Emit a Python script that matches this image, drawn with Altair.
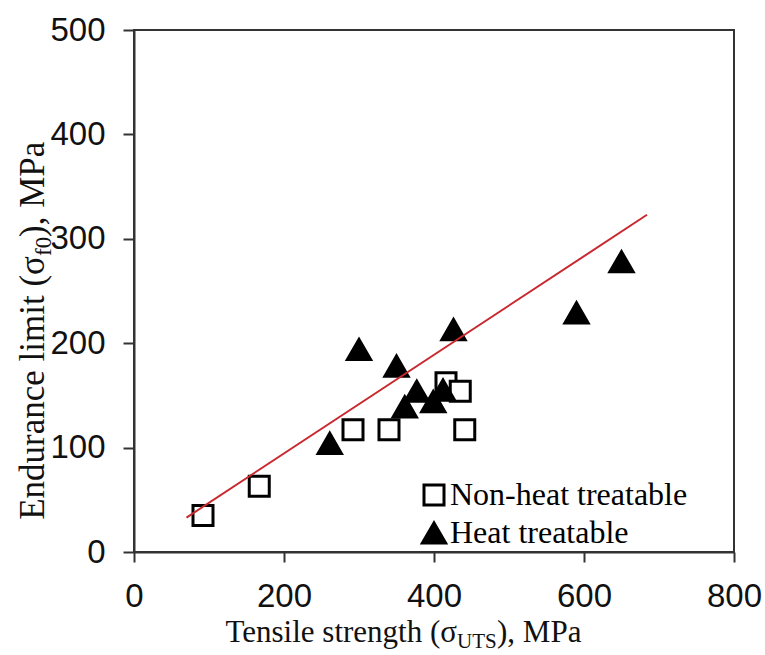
import altair as alt
import pandas as pd

# ---- data ----
groups = ["Non-heat treatable", "Heat treatable"]
non_x = [92, 167, 292, 340, 441, 416, 435]
non_y = [35, 63, 117, 117, 117, 162, 154]
heat_x = [261, 300, 350, 426, 377, 361, 399, 412, 590, 650]
heat_y = [104, 194, 178, 213, 154, 139, 144, 155, 229, 278]
fit_x = [70, 684]
fit_y = [33, 323]
x_ticks = [0, 200, 400, 600, 800]
y_ticks = [0, 100, 200, 300, 400, 500]

rows = [{"Tensile": x, "Endurance": y, "Group": groups[0]} for x, y in zip(non_x, non_y)]
rows += [{"Tensile": x, "Endurance": y, "Group": groups[1]} for x, y in zip(heat_x, heat_y)]
df = pd.DataFrame(rows)
fit_df = pd.DataFrame({"Tensile": fit_x, "Endurance": fit_y})

W, H = 600, 522
x_scale = alt.Scale(domain=[0, 800], nice=False)
y_scale = alt.Scale(domain=[0, 500], nice=False)

axis_common = dict(
    title=None, grid=False, labelFont="Liberation Sans", labelFontSize=33,
    labelColor="#111", tickWidth=2, tickColor="#333", domainColor="#333",
    domainWidth=2, labelFlush=False, labelOverlap=False,
)
x_axis = alt.Axis(values=x_ticks, tickSize=10, labelPadding=18, **axis_common)
y_axis = alt.Axis(values=y_ticks, tickSize=11, labelPadding=18, **axis_common)

legend = alt.Legend(
    title=None, orient="none", legendX=284, legendY=449,
    symbolSize=420, symbolStrokeColor="black", symbolStrokeWidth=3,
)

points = alt.Chart(df).mark_point(filled=True, stroke="black", strokeWidth=3, opacity=1).encode(
    x=alt.X("Tensile:Q", scale=x_scale, axis=x_axis),
    y=alt.Y("Endurance:Q", scale=y_scale, axis=y_axis),
    color=alt.Color("Group:N", scale=alt.Scale(domain=groups, range=["white", "black"]), legend=legend),
    shape=alt.Shape("Group:N", scale=alt.Scale(domain=groups, range=["square", "triangle-up"]), legend=legend),
    size=alt.Size("Group:N", scale=alt.Scale(domain=groups, range=[400, 540]), legend=None),
)

line = alt.Chart(fit_df).mark_line(color="#c8282e", strokeWidth=2).encode(
    x=alt.X("Tensile:Q", scale=x_scale),
    y=alt.Y("Endurance:Q", scale=y_scale),
)

one = alt.Data(values=[{"a": 1}])
serif = "Liberation Serif"

def txt(s, x, y, size, align, angle=0, dy=0):
    kw = dict(font=serif, fontSize=size, align=align, color="#111", baseline="alphabetic", dy=dy)
    if angle:
        kw["angle"] = angle
    return alt.Chart(one).mark_text(**kw).encode(
        x=alt.value(x), y=alt.value(y), text=alt.value(s))

# x-axis title with subscript
XT_Y = 612
X1 = 323
xt = [
    txt("Tensile strength (σ", X1, XT_Y, 31, "right"),
    txt("UTS", X1, XT_Y, 21, "left", dy=6),
    txt("), MPa", X1 + 40, XT_Y, 31, "left"),
]
# y-axis title with subscript (rotated)
YT_X = -90
Y1 = 226
yt = [
    txt("Endurance limit (σ", YT_X, Y1, 35, "right", angle=270),
    txt("f0", YT_X, Y1, 23, "left", angle=270, dy=7),
    txt("), MPa", YT_X, Y1 - 19, 35, "left", angle=270),
]

chart = alt.layer(points, line, *xt, *yt).properties(
    width=W, height=H,
    padding={"left": 134, "top": 30, "right": 31, "bottom": 103},
    autosize=alt.AutoSizeParams(type="none"),
    background="white",
).configure_view(stroke="#333", strokeWidth=2).configure_legend(
    labelFont="Liberation Serif", labelFontSize=32, labelColor="black",
    labelLimit=0, rowPadding=5, labelOffset=0,
)

chart.save("out.html", embed_options={"renderer": "svg", "actions": False})
